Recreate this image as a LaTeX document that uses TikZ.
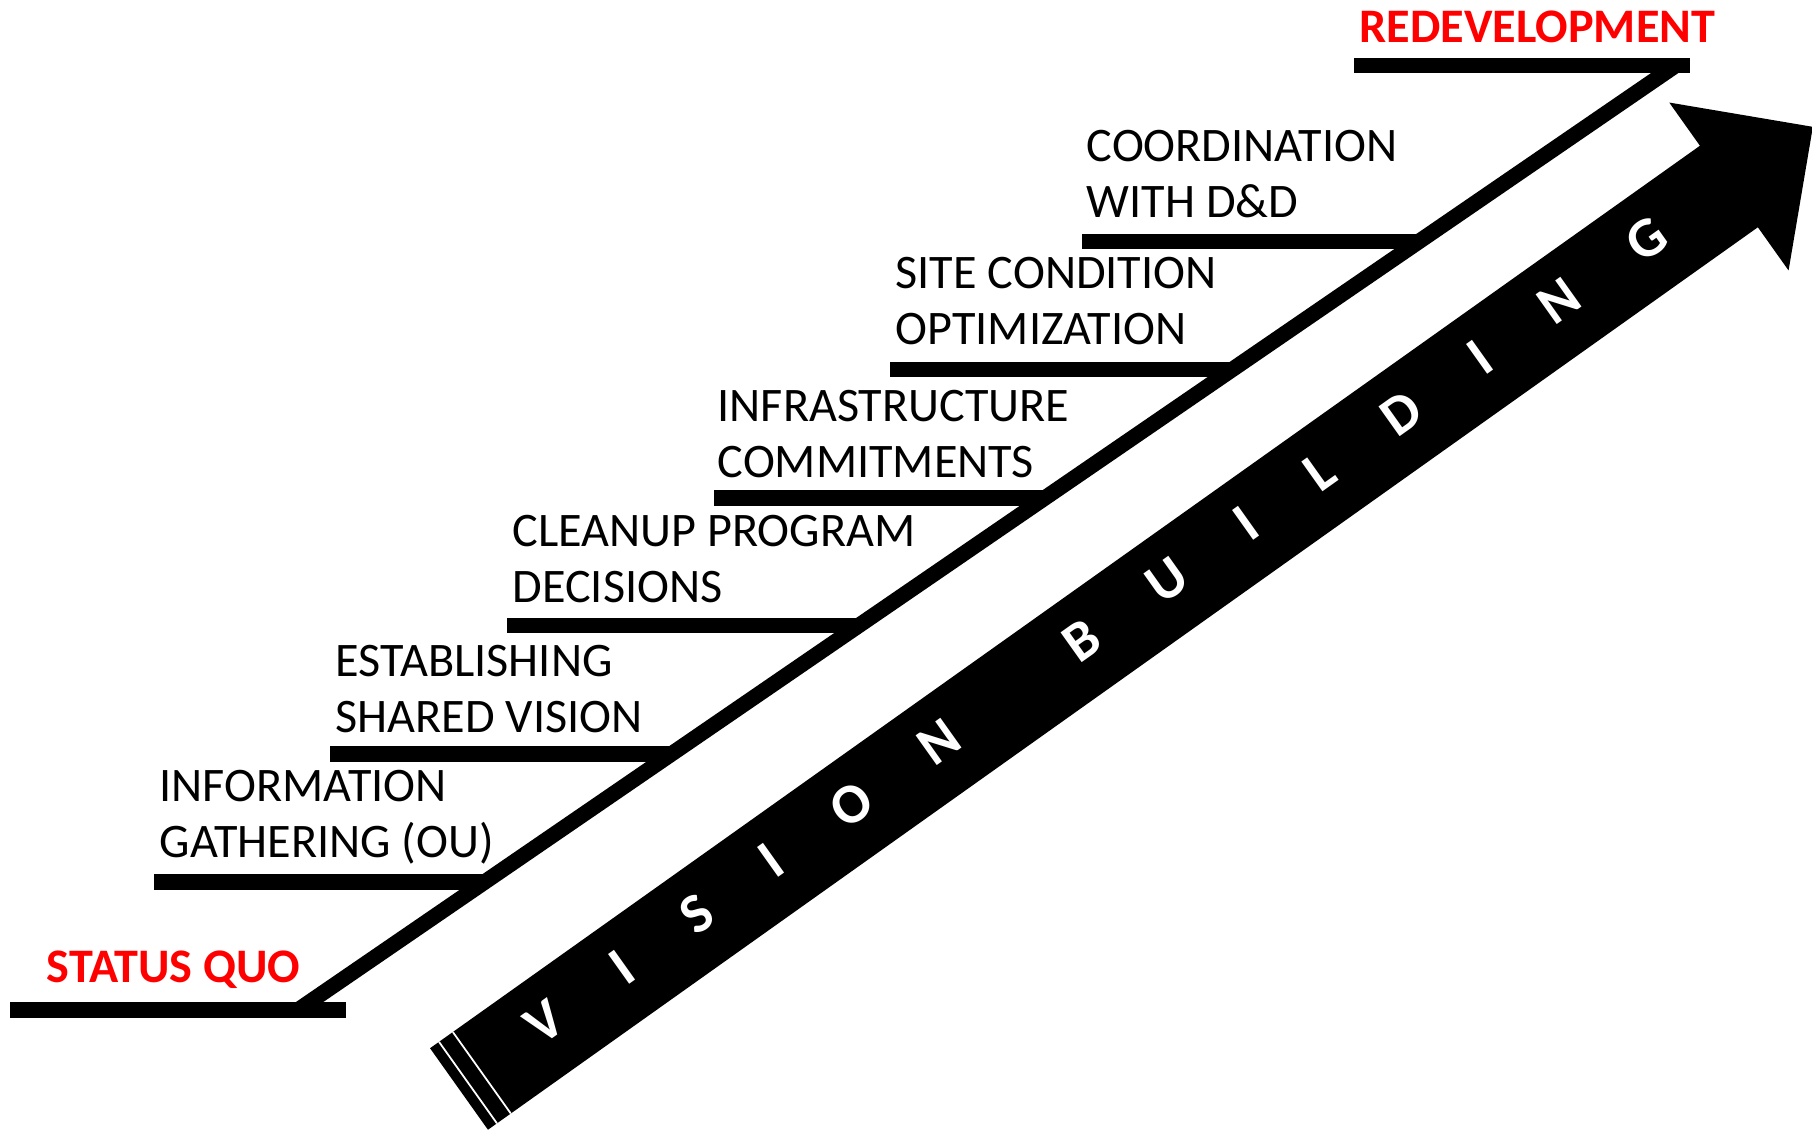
\documentclass[tikz,border=0pt]{standalone}
\usepackage{fontspec}
\setmainfont{Carlito}
\usepackage{tikz}
\usetikzlibrary{positioning}
\tikzstyle{stair} = [draw, line width=4.4pt]
\tikzstyle{stepnote} = [anchor=south west, inner sep=0pt, text depth=0pt, align=left, font=\fontsize{13.7}{15.8}\selectfont]
\tikzstyle{goal} = [anchor=base west, inner sep=0pt, text=red, font=\fontsize{13.7}{15.8}\selectfont\bfseries]

\begin{document}
\begin{tikzpicture}[x=0.01cm, y=0.01cm]
  \useasboundingbox (0,0) rectangle (1812,1131);

  % the big arrow
  \begin{scope}[shift={(459,42)}, rotate=35.4]
    \fill[black] (0,-50) -- (1558,-50) -- (1558,-103) -- (1661,0) -- (1558,103) -- (1558,50) -- (0,50) -- cycle;
    \draw[white, line width=0.5pt] (11,-50) -- (11,50);
    \draw[white, line width=0.5pt] (28,-50) -- (28,50);
    \node[transform shape, inner sep=0pt, text=white, font=\fontsize{16}{18}\selectfont\bfseries\addfontfeature{LetterSpace=126}] (vb) at (785,5) {VISION\hspace*{16pt} BUILDING};
  \end{scope}

  % stairs
  \coordinate (low) at (298,121);
  \coordinate (high) at (1675,1065);
  \draw[stair] (low) -- (high);
  \draw[stair] (10,121) -- (346,121);
  \draw[stair] (154,249) -- (485,249);
  \draw[stair] (330,377) -- (671,377);
  \draw[stair] (507,505.5) -- (859,505.5);
  \draw[stair] (714,633) -- (1045,633);
  \draw[stair] (890,761.5) -- (1232,761.5);
  \draw[stair] (1082,889.5) -- (1420,889.5);
  \draw[stair] (1354,1065.5) -- (1690,1065.5);

  \node[goal] (sq) at (46,148) {STATUS QUO};
  \node[goal] (rd) at (1359,1088) {REDEVELOPMENT};

  \node[stepnote] (info) at (159,273) {INFORMATION\\GATHERING (OU)};
  \node[stepnote] (vision) at (335,398) {ESTABLISHING\\SHARED VISION};
  \node[stepnote] (cleanup) at (512,528) {CLEANUP PROGRAM\\DECISIONS};
  \node[stepnote] (infra) at (717,653) {INFRASTRUCTURE\\COMMITMENTS};
  \node[stepnote] (site) at (895,786) {SITE CONDITION\\OPTIMIZATION};
  \node[stepnote] (coord) at (1086,913) {COORDINATION\\WITH D\&D};
\end{tikzpicture}
\end{document}
